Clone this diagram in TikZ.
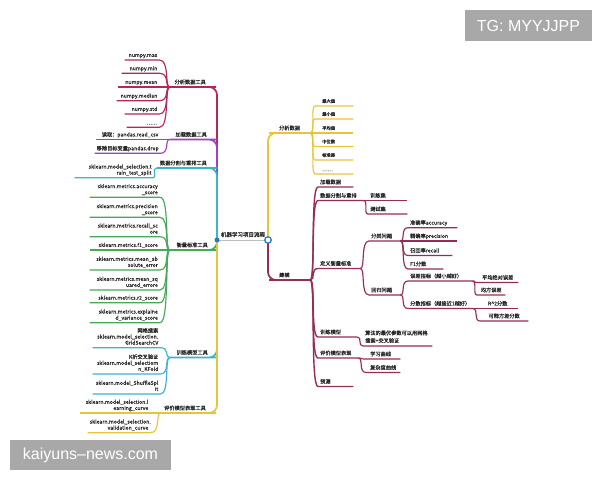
\documentclass[tikz,border=0pt]{standalone}
\usepackage{fontspec}
\setmainfont{Noto Sans CJK SC}[FakeBold=0.35]
\newfontfamily\wmfont{Liberation Sans}
\usetikzlibrary{calc}
\pgfdeclarelayer{front}
\pgfsetlayers{main,front}
\definecolor{cRed}{HTML}{B3275C}
\definecolor{cPur}{HTML}{A040C8}
\definecolor{cCya}{HTML}{3BB4CF}
\definecolor{cGrn}{HTML}{45A85B}
\definecolor{cYel}{HTML}{E6C53C}
\definecolor{cMar}{HTML}{962C58}
\definecolor{cBlu}{HTML}{1F7DC9}
\definecolor{txt}{HTML}{262626}
\definecolor{wmg}{HTML}{A8A8A8}
\tikzset{
  lab/.style={inner xsep=2pt, inner ysep=1pt, text=txt, execute at end node=\strut},
  fcn/.style={font=\fontsize{5.2}{6.2}\selectfont},
  flat/.style={font=\fontsize{5.2}{6.1}\selectfont},
  smallcn/.style={font=\fontsize{4.3}{5}\selectfont, inner ysep=1.6pt},
  dots/.style={font=\fontsize{5}{5.5}\selectfont, inner ysep=1pt},
  lnode/.style={lab, anchor=south east, align=right, text width=#1},
  rnode/.style={lab, anchor=south west, align=left, text width=#1},
  cnode/.style={lab, anchor=south west, align=center, text width=#1},
  ind/.style={execute at begin node={\hspace*{#1}}},
  br/.style={line width=1.7pt, rounded corners=8pt},
  lf/.style={line width=1.15pt},
  lfan/.style={to path={.. controls ([xshift=-5pt]\tikztostart) and (\tikztostart |- \tikztotarget) .. (\tikztotarget) \tikztonodes}},
  rfan/.style={to path={.. controls ([xshift=5pt]\tikztostart) and (\tikztostart |- \tikztotarget) .. (\tikztotarget) \tikztonodes}},
  dotL/.style={circle, fill=cBlu, minimum size=5pt, inner sep=0pt},
  dotR/.style={circle, draw=cBlu, fill=white, line width=1.3pt, minimum size=6.5pt, inner sep=0pt},
  wm/.style={fill=wmg, text=white, inner sep=0pt, font=\wmfont\fontsize{16}{18}\selectfont},
}
\begin{document}
\begin{tikzpicture}[x=1pt,y=-1pt]
\useasboundingbox[fill=white] (0,0) rectangle (600,480);

% ---- centre ----
\begin{pgfonlayer}{front}
\node[dotL] (cL) at (217,240) {};
\node[dotR] (cR) at (268,240) {};
\end{pgfonlayer}
\node[text=txt, font=\fontsize{5.5}{6.5}\selectfont] (root) at (243,234.5) {机器学习项目流程};
\draw[line width=1pt, black!25] (cL.center) -- (cR.center);

% ---- left parents ----
\node[lnode=34,fcn] (p1) at (208,87) {分析数据工具};
\node[lnode=35,fcn] (p2) at (209,139.5) {加载数据工具};
\node[lnode=48,fcn] (p3) at (209,168) {数据分割与重排工具};
\node[lnode=36,fcn] (p4) at (210,250) {衡量标准工具};
\node[lnode=36,fcn] (p5) at (210,357.5) {训练模型工具};
\node[lnode=43,fcn] (p6) at (208,413) {评价模型表现工具};

% ---- left leaves ----
\node[lnode=30.5,flat] (a1) at (159.5,60) {numpy.max};
\node[lnode=33.5,flat] (a2) at (159.5,73.3) {numpy.min};
\node[lnode=37.5,flat] (a3) at (159.5,87) {numpy.mean};
\node[lnode=38.5,flat] (a4) at (159.5,100.7) {numpy.median};
\node[lnode=30.5,flat] (a5) at (159.5,114) {numpy.std};
\node[lnode=28.5,dots] (a6) at (159.5,127.3) {……};

\node[lnode=59.8,flat] (b1) at (160.5,139.5) {读取：pandas.read\_csv};
\node[lnode=61.5,flat] (b2) at (160.5,153.3) {移除目标变量pandas.drop};

\node[lnode=74.7,flat] (c1) at (153.7,177.7) {sklearn.model\_selection.t\\rain\_test\_split};

\node[lnode=66,flat] (d1) at (160,197.3) {sklearn.metrics.accuracy\\\_score};
\node[lnode=66,flat] (d2) at (160,217.3) {sklearn.metrics.precision\\\_score};
\node[lnode=66,flat] (d3) at (160,236.7) {sklearn.metrics.recall\_sc\\ore};
\node[lnode=66,flat] (d4) at (160,250) {sklearn.metrics.f1\_score};
\node[lnode=66,flat] (d5) at (160,270) {sklearn.metrics.mean\_ab\\solute\_error};
\node[lnode=66,flat] (d6) at (160,290) {sklearn.metrics.mean\_sq\\uared\_errore};
\node[lnode=66,flat] (d7) at (160,302.7) {sklearn.metrics.r2\_score};
\node[lnode=66,flat] (d8) at (160,322.7) {sklearn.metrics.explaine\\d\_variance\_score};

\node[lnode=63.5,flat] (e1) at (160.5,347.7) {网格搜索\\sklearn.model\_selection.\\GridSearchCV};
\node[lnode=63.5,flat] (e2) at (160.5,374) {K折交叉验证\\sklearn.model\_selectiom\\n\_KFold};
\node[lnode=63.5,flat] (e3) at (160.5,394) {sklearn.model\_ShuffleSpl\\it};

\node[lnode=66.5,flat] (f1) at (150.5,413) {sklearn.model\_selection.l\\earning\_curve};
\node[lnode=58.5,flat] (f2) at (150.5,432.7) {sklearn.model\_selection.\\validation\_curve};

% ---- right parents ----
\node[rnode=29,fcn] (r1) at (277,133) {分析数据};
\node[rnode=29,fcn] (r2) at (277,280) {建模};

\node[rnode=34,smallcn,ind=5pt] (s1) at (315,106) {最大值};
\node[rnode=34,smallcn,ind=5pt] (s2) at (315,119) {最小值};
\node[rnode=34,smallcn,ind=5pt] (s3) at (315,133) {平均值};
\node[rnode=34,smallcn,ind=5pt] (s4) at (315,146.5) {中位数};
\node[rnode=34,smallcn,ind=5pt] (s5) at (315,160) {标准差};
\node[rnode=34,dots,ind=5pt] (s6) at (315,174) {……};

\node[rnode=31,fcn] (t1) at (318,187) {加载数据};
\node[rnode=41,fcn] (t2) at (318,200.5) {数据分割与重排};
\node[rnode=38,fcn] (t3) at (318,268.5) {定义衡量标准};
\node[rnode=35,fcn] (t4) at (318,337) {训练模型};
\node[rnode=36,fcn] (t5) at (318,358) {评价模型表现};
\node[rnode=31,fcn] (t6) at (318,386.5) {预测};

\node[rnode=35,fcn] (u1) at (368,200.5) {训练集};
\node[rnode=35,fcn] (u2) at (368,214) {测试集};

\node[rnode=27,fcn] (v1) at (369,241) {分类问题};
\node[rnode=27,fcn] (v2) at (369,295) {回归问题};

\node[rnode=45,fcn] (w1) at (408,227.7) {准确率accuracy};
\node[rnode=45,fcn] (w2) at (408,241) {精确率precision};
\node[rnode=40,fcn] (w3) at (408,255.5) {召回率recall};
\node[rnode=31,fcn] (w4) at (408,269) {F1分数};

\node[rnode=60,fcn] (x1) at (408,281) {误差指标（越小越好）};
\node[rnode=61,fcn] (x2) at (408,308.5) {分数指标（越接近1越好）};

\node[cnode=37,fcn] (y1) at (477,282.5) {平均绝对误差};
\node[cnode=24,fcn] (y2) at (477,295) {均方误差};
\node[cnode=37,fcn] (z1) at (477,308.5) {R\textasciicircum{}2分数};
\node[cnode=44,fcn] (z2) at (480,321) {可释方差分数};

\node[rnode=65,lab,font=\fontsize{5.2}{7.6}\selectfont] (q1) at (363,346) {算法的最优参数可以用网格\\搜索+交叉验证};

\node[rnode=30,fcn,ind=2pt] (k1) at (366,359) {学习曲线};
\node[rnode=30,fcn,ind=2pt] (k2) at (366,372.5) {复杂度曲线};

% ---- main branches ----
\draw[br,cRed] (cL.center) |- (p1.south east) -- (p1.south west);
\draw[br,cPur] (cL.center) |- (p2.south east) -- (p2.south west);
\draw[br,cCya] (cL.center) |- (p3.south east) -- (p3.south west);
\draw[br,cGrn] (cL.center) |- (p4.south east) -- (p4.south west);
\draw[br,cCya] (cL.center) |- (p5.south east) -- (p5.south west);
\draw[br,cYel] (cL.center) |- (p6.south east) -- (p6.south west);
\draw[br,cYel] (cR.center) |- (r1.south west) -- (r1.south east);
\draw[br,cMar] (cR.center) |- (r2.south west) -- (r2.south east);

% ---- left fans ----
\foreach \nd in {a1,a2,a3,a4,a5,a6}
  \draw[lf,cRed] (p1.south west) to[lfan] (\nd.south east) -- (\nd.south west);
\foreach \nd in {b1,b2}
  \draw[lf,cPur] (p2.south west) to[lfan] (\nd.south east) -- (\nd.south west);
\draw[lf,cCya] (p3.south west) to[lfan] (c1.south east) -- (c1.south west);
\foreach \nd in {d1,d2,d3,d4,d5,d6,d7,d8}
  \draw[lf,cGrn] (p4.south west) to[lfan] (\nd.south east) -- (\nd.south west);
\foreach \nd in {e1,e2,e3}
  \draw[lf,cCya] (p5.south west) to[lfan] (\nd.south east) -- (\nd.south west);
\foreach \nd in {f1,f2}
  \draw[lf,cYel] (p6.south west) to[lfan] (\nd.south east) -- (\nd.south west);

% ---- right fans ----
\foreach \nd in {s1,s2,s3,s4,s5,s6}
  \draw[lf,cYel] (r1.south east) to[rfan] (\nd.south west) -- (\nd.south east);
\foreach \nd in {t1,t2,t3,t4,t5,t6}
  \draw[lf,cMar,line width=1.4pt] (r2.south east) to[rfan] (\nd.south west) -- (\nd.south east);
\foreach \nd in {u1,u2}
  \draw[lf,cMar] (t2.south east) to[rfan] (\nd.south west) -- (\nd.south east);
\foreach \nd in {v1,v2}
  \draw[lf,cMar] (t3.south east) to[rfan] (\nd.south west) -- (\nd.south east);
\foreach \nd in {w1,w2,w3,w4}
  \draw[lf,cMar] (v1.south east) to[rfan] (\nd.south west) -- (\nd.south east);
\foreach \nd in {x1,x2}
  \draw[lf,cMar] (v2.south east) to[rfan] (\nd.south west) -- (\nd.south east);
\foreach \nd in {y1,y2}
  \draw[lf,cMar] (x1.south east) to[rfan] (\nd.south west) -- (\nd.south east);
\foreach \nd in {z1,z2}
  \draw[lf,cMar] (x2.south east) to[rfan] (\nd.south west) -- (\nd.south east);
\draw[lf,cMar] (t4.south east) to[rfan] (q1.south west) -- (q1.south east);
\foreach \nd in {k1,k2}
  \draw[lf,cMar] (t5.south east) to[rfan] (\nd.south west) -- (\nd.south east);

% ---- watermarks ----
\node[wm, minimum width=127pt, minimum height=31pt] (tg) at (528.5,25.5) {TG: MYYJJPP};
\node[wm, minimum width=161pt, minimum height=30pt] (site) at (90.5,455) {kaiyuns–news.com};
\end{tikzpicture}
\end{document}
